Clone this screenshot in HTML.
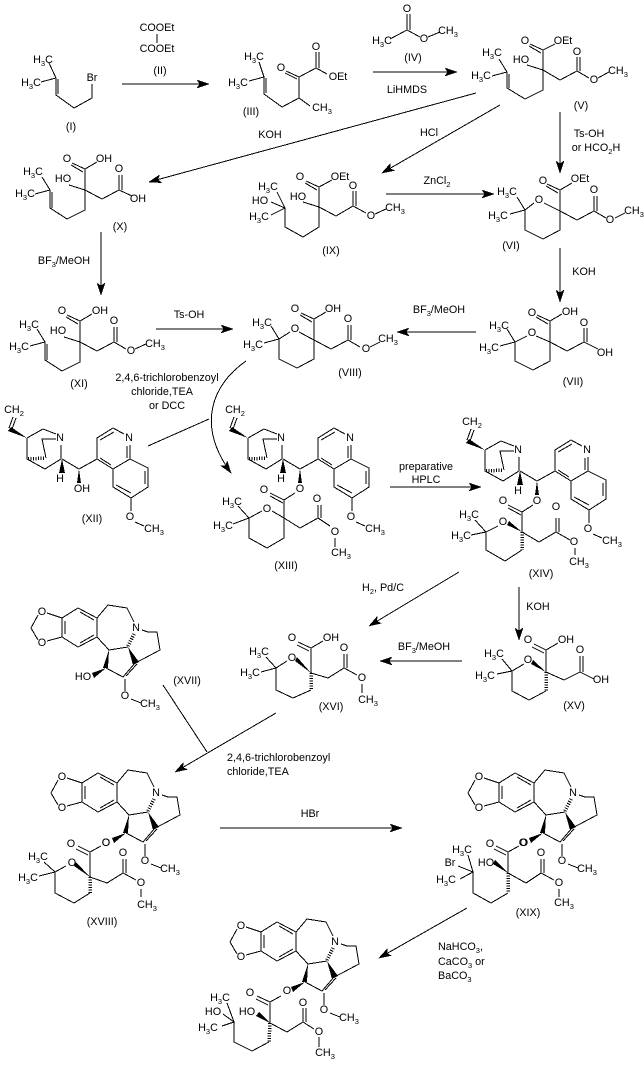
<!DOCTYPE html>
<html><head><meta charset="utf-8"><style>
html,body{margin:0;padding:0;background:#fff}
svg{display:block}
text{font:10.8px "Liberation Sans",Arial,sans-serif;fill:#000;text-anchor:middle;dominant-baseline:central}
.s{font-size:7.5px}
.l{text-anchor:start}
path{fill:none;stroke:#000;stroke-width:1;shape-rendering:crispEdges}
.a{marker-end:url(#ah)}
.h{stroke-width:3.5;stroke-dasharray:1 1.5}
polygon{fill:#000;shape-rendering:crispEdges}
</style></head><body>
<svg width="644" height="1065" viewBox="0 0 644 1065" xmlns="http://www.w3.org/2000/svg">
<defs><marker id="ah" markerUnits="userSpaceOnUse" markerWidth="14" markerHeight="10" refX="12" refY="5" orient="auto"><path d="M0 1L12 5L0 9L3 5Z" style="fill:#000;stroke:#000;stroke-width:.5"/></marker></defs>

<!-- arrows -->
<path class="a" d="M122 84H209"/><path class="a" d="M373 72H457"/><path class="a" d="M476 93L149 182"/>
<path class="a" d="M500 105L382 173"/><path class="a" d="M560 112V173"/><path class="a" d="M386 194H494"/>
<path class="a" d="M101 232V295"/><path class="a" d="M560 248V302"/><path class="a" d="M156 329H233"/>
<path class="a" d="M476 332H397"/><path class="a" d="M246 361C212 385 196 425 231 473"/><path d="M148 446L209 419"/>
<path class="a" d="M390 487H481"/><path class="a" d="M459 572L369 626"/><path class="a" d="M519 587V640"/>
<path class="a" d="M462 661H380"/><path class="a" d="M276 713L175 772"/><path d="M163 685L207 752"/>
<path class="a" d="M220 828H402"/><path class="a" d="M467 908L379 958"/>

<!-- reagents and labels -->
<text x="157" y="28">COOEt</text><path d="M157 34V43"/><text x="157" y="49">COOEt</text>
<text x="160" y="71">(II)</text><text x="71" y="127">(I)</text><text x="251" y="112">(III)</text>
<text x="413" y="58">(IV)</text><text x="407" y="90">LiHMDS</text><text x="581" y="106">(V)</text>
<text x="270" y="135">KOH</text><text x="429" y="133">HCl</text><text x="589" y="134">Ts-OH</text>
<text x="596" y="148">or HCO<tspan class="s" dy="3">2</tspan><tspan dy="-3">H</tspan></text>
<text x="120" y="227">(X)</text><text x="331" y="251">(IX)</text>
<text x="437" y="181">ZnCl<tspan class="s" dy="3">2</tspan></text><text x="511" y="246">(VI)</text>
<text x="64" y="261">BF<tspan class="s" dy="3">3</tspan><tspan dy="-3">/MeOH</tspan></text><text x="584" y="272">KOH</text>
<text x="189" y="315">Ts-OH</text>
<text x="439" y="310">BF<tspan class="s" dy="3">3</tspan><tspan dy="-3">/MeOH</tspan></text>
<text x="79" y="384">(XI)</text><text x="350" y="373">(VIII)</text><text x="573" y="382">(VII)</text>
<text x="167" y="378">2,4,6-trichlorobenzoyl</text><text x="162" y="392">chloride,TEA</text><text x="167" y="406">or DCC</text>
<text x="92" y="519">(XII)</text><text x="426" y="467">preparative</text><text x="426" y="480">HPLC</text>
<text x="286" y="566">(XIII)</text><text x="541" y="574">(XIV)</text>
<text class="l" x="362" y="588">H<tspan class="s" dy="3">2</tspan><tspan dy="-3">,  Pd/C</tspan></text>
<text x="538" y="607">KOH</text>
<text x="424" y="647">BF<tspan class="s" dy="3">3</tspan><tspan dy="-3">/MeOH</tspan></text>
<text x="187" y="681">(XVII)</text><text x="331" y="707">(XVI)</text><text x="574" y="706">(XV)</text>
<text class="l" x="227" y="758">2,4,6-trichlorobenzoyl</text><text class="l" x="227" y="772">chloride,TEA</text>
<text x="102" y="922">(XVIII)</text><text x="528" y="913">(XIX)</text><text x="310" y="814">HBr</text>
<text class="l" x="438" y="947">NaHCO<tspan class="s" dy="3">3</tspan><tspan dy="-3">,</tspan></text>
<text class="l" x="438" y="962">CaCO<tspan class="s" dy="3">3</tspan><tspan dy="-3"> or</tspan></text>
<text class="l" x="438" y="976">BaCO<tspan class="s" dy="3">3</tspan></text>

<!-- I -->
<path d="M49 63L56 78L41 82M56 78V95L74 108L92 98V84M58 79V94"/>
<text x="43" y="60">H<tspan class="s" dy="3">3</tspan><tspan dy="-3">C</tspan></text><text x="31" y="83">H<tspan class="s" dy="3">3</tspan><tspan dy="-3">C</tspan></text><text x="92" y="78">Br</text>

<!-- III -->
<path d="M259 62L264 77L249 81M264 77V94L282 107L299 98L299 77L316 68V52M319 68V52M316 68L327 74M299 98L310 106M299 77L286 71M297 79L285 73M266 78V93"/>
<text x="254" y="57">H<tspan class="s" dy="3">3</tspan><tspan dy="-3">C</tspan></text><text x="238" y="83">H<tspan class="s" dy="3">3</tspan><tspan dy="-3">C</tspan></text>
<text x="281" y="68">O</text><text x="316" y="47">O</text><text x="338" y="77">OEt</text><text x="322" y="108">CH<tspan class="s" dy="3">3</tspan></text>

<!-- IV -->
<path d="M407 14V30M410 14V30M407 30L390 39M407 30L420 37M428 37L440 32"/>
<text x="407" y="9">O</text><text x="382" y="41">H<tspan class="s" dy="3">3</tspan><tspan dy="-3">C</tspan></text><text x="424" y="39">O</text><text x="448" y="31">CH<tspan class="s" dy="3">3</tspan></text>

<!-- V -->
<g transform="translate(543 70)">
<path d="M0 0V-20L-13 -26M-2 -17L-14 -24M0 -20L12 -26M-16 -5L0 0M0 0V20L-18 29L-36 18V2L-44 -11M-36 2L-51 6M-34 4V18M0 0L17 10L34 1V-13M37 1V-13M34 1L46 8M55 8L66 2"/>
<text x="-18" y="-29">O</text><text x="20" y="-29">OEt</text><text x="-22" y="-10">HO</text><text x="34" y="-18">O</text><text x="51" y="10">O</text>
<text x="75" y="1">CH<tspan class="s" dy="3">3</tspan></text>
<text x="-51" y="-17">H<tspan class="s" dy="3">3</tspan><tspan dy="-3">C</tspan></text><text x="-62" y="6">H<tspan class="s" dy="3">3</tspan><tspan dy="-3">C</tspan></text></g>

<!-- X -->
<g transform="translate(85 190)">
<path d="M0 0V-21L-13 -27M-2 -18L-14 -25M0 -21L12 -28M-16 -5L0 0M0 0V20L-18 29L-35 18V0L-43 -13M-35 0L-50 4M-33 2V18M0 0L17 9L34 0V-15M37 0V-15M34 0L47 6"/>
<text x="-18" y="-31">O</text><text x="19" y="-31">OH</text><text x="-22" y="-11">HO</text><text x="34" y="-21">O</text><text x="53" y="9">OH</text>
<text x="-52" y="-18">H<tspan class="s" dy="3">3</tspan><tspan dy="-3">C</tspan></text><text x="-60" y="4">H<tspan class="s" dy="3">3</tspan><tspan dy="-3">C</tspan></text></g>

<!-- IX -->
<g transform="translate(319 207)">
<path d="M0 0V-20L-13 -26M-2 -17L-14 -24M0 -20L13 -27M-16 -5L0 0M0 0V20L-16 30L-34 20V1L-42 -15M-34 1L-48 -5M-34 1L-48 8M0 0L17 9L34 -1V-16M37 -1V-16M34 -1L47 6M56 7L67 2"/>
<text x="-19" y="-30">O</text><text x="21" y="-30">OEt</text><text x="-21" y="-10">HO</text><text x="34" y="-21">O</text><text x="52" y="9">O</text>
<text x="76" y="1">CH<tspan class="s" dy="3">3</tspan></text>
<text x="-51" y="-20">H<tspan class="s" dy="3">3</tspan><tspan dy="-3">C</tspan></text><text x="-59" y="-6">HO</text><text x="-60" y="10">H<tspan class="s" dy="3">3</tspan><tspan dy="-3">C</tspan></text></g>

<!-- VI -->
<g transform="translate(560 211)">
<path d="M0 0V-21L-13 -27M-2 -18L-14 -25M0 -21L12 -28M0 0L-16 -8M-26 -8L-35 -1V19L-17 28L0 19V0M-35 -1L-43 -14M-35 -1L-50 3M0 0L17 9L34 0V-15M37 0V-15M34 0L46 7M55 7L65 2"/>
<text x="-17" y="-30">O</text><text x="20" y="-32">OEt</text><text x="-21" y="-11">O</text><text x="34" y="-21">O</text><text x="50" y="9">O</text>
<text x="74" y="0">CH<tspan class="s" dy="3">3</tspan></text>
<text x="-53" y="-19">H<tspan class="s" dy="3">3</tspan><tspan dy="-3">C</tspan></text><text x="-62" y="5">H<tspan class="s" dy="3">3</tspan><tspan dy="-3">C</tspan></text></g>

<!-- XI -->
<g transform="translate(80 342)">
<path d="M0 0V-21L-13 -27M-2 -18L-14 -25M0 -21L12 -28M-16 -5L0 0M0 0V20L-18 29L-35 18V0L-43 -13M-35 0L-50 4M-33 2V18M0 0L17 9L34 0V-15M37 0V-15M34 0L46 7M55 7L66 2"/>
<text x="-18" y="-31">O</text><text x="20" y="-31">OH</text><text x="-22" y="-11">HO</text><text x="34" y="-21">O</text><text x="51" y="9">O</text>
<text x="75" y="2">CH<tspan class="s" dy="3">3</tspan></text>
<text x="-51" y="-17">H<tspan class="s" dy="3">3</tspan><tspan dy="-3">C</tspan></text><text x="-61" y="5">H<tspan class="s" dy="3">3</tspan><tspan dy="-3">C</tspan></text></g>

<!-- VIII -->
<g transform="translate(314 340)">
<path d="M0 0V-21L-13 -27M-2 -18L-14 -25M0 -21L12 -28M0 0L-15 -8M-24 -8L-35 -1V19L-17 28L0 19V0M-35 -1L-43 -14M-35 -1L-50 3M0 0L17 9L34 0V-15M37 0V-15M34 0L46 7M56 7L66 2"/>
<text x="-19" y="-31">O</text><text x="19" y="-31">OH</text><text x="-19" y="-11">O</text><text x="34" y="-21">O</text><text x="52" y="9">O</text>
<text x="74" y="-1">CH<tspan class="s" dy="3">3</tspan></text>
<text x="-52" y="-17">H<tspan class="s" dy="3">3</tspan><tspan dy="-3">C</tspan></text><text x="-61" y="5">H<tspan class="s" dy="3">3</tspan><tspan dy="-3">C</tspan></text></g>

<!-- VII -->
<g transform="translate(550 342)">
<path d="M0 0V-21L-13 -27M-2 -18L-14 -25M0 -21L12 -28M0 0L-14 -6M-23 -6L-35 0V19L-17 28L0 19V0M-35 0L-43 -13M-35 0L-50 4M0 0L17 9L34 0V-14M37 0V-14M34 0L48 7"/>
<text x="-18" y="-29">O</text><text x="20" y="-30">OH</text><text x="-18" y="-9">O</text><text x="34" y="-19">O</text><text x="55" y="11">OH</text>
<text x="-51" y="-16">H<tspan class="s" dy="3">3</tspan><tspan dy="-3">C</tspan></text><text x="-61" y="6">H<tspan class="s" dy="3">3</tspan><tspan dy="-3">C</tspan></text></g>

<!-- XII quinine -->
<g>
<path d="M13 417L9 428M16 418L12 429M27 438L43 429L56 434M61 445V459L45 469L27 459V438M56 439H42L46 458M62 459L79 469L97 459V438L113 428L124 434M130 445V459L113 469L97 459M100 440L114 432M127 446V458M111 465L100 458M113 469V487L131 498L148 487V468L130 459M116 485L131 493M145 484V471M131 498V511M135 522L144 526"/>
<path class="h" d="M28 459L45 458"/>
<polygon points="8,431 11,427 27,438"/><polygon points="62,459 59,473 65,473"/><polygon points="79,469 77,483 81,483"/>
<text x="14" y="410">CH<tspan class="s" dy="3">2</tspan></text><text x="60" y="438">N</text><text x="129" y="438">N</text><text x="60" y="479">H</text><text x="82" y="489">OH</text><text x="130" y="517">O</text><text x="154" y="529">CH<tspan class="s" dy="3">3</tspan></text>
</g>

<!-- XIII -->
<g transform="translate(221 0)">
<path d="M13 417L9 428M16 418L12 429M27 438L43 429L56 434M61 445V459L45 469L27 459V438M56 439H42L46 458M62 459L79 469L97 459V438L113 428L124 434M130 445V459L113 469L97 459M100 440L114 432M127 446V458M111 465L100 458M113 469V487L131 498L148 487V468L130 459M116 485L131 493M145 484V471M131 498V511M135 522L144 526"/>
<path class="h" d="M28 459L45 458"/>
<polygon points="8,431 11,427 27,438"/><polygon points="62,459 59,473 65,473"/><polygon points="79,469 77,483 81,483"/>
<text x="14" y="410">CH<tspan class="s" dy="3">2</tspan></text><text x="60" y="438">N</text><text x="129" y="438">N</text><text x="60" y="479">H</text><text x="130" y="517">O</text><text x="154" y="529">CH<tspan class="s" dy="3">3</tspan></text>
</g>
<path d="M284 518V500L270 493M283 503L270 496M284 500L295 493M284 518L272 511M262 511L249 518V538L267 548L284 538V518M249 518L238 506M249 518L233 524M284 518L300 528L318 518V505M321 518V505M318 518L330 526M335 538V547"/>
<text x="264" y="490">O</text><text x="300" y="489">O</text><text x="267" y="509">O</text><text x="317" y="499">O</text><text x="335" y="532">O</text>
<text x="341" y="553">CH<tspan class="s" dy="3">3</tspan></text>
<text x="232" y="502">H<tspan class="s" dy="3">3</tspan><tspan dy="-3">C</tspan></text><text x="223" y="526">H<tspan class="s" dy="3">3</tspan><tspan dy="-3">C</tspan></text>

<!-- XIV -->
<g transform="translate(458 12)">
<path d="M13 417L9 428M16 418L12 429M27 438L43 429L56 434M61 445V459L45 469L27 459V438M56 439H42L46 458M62 459L79 469L97 459V438L113 428L124 434M130 445V459L113 469L97 459M100 440L114 432M127 446V458M111 465L100 458M113 469V487L131 498L148 487V468L130 459M116 485L131 493M145 484V471M131 498V511M135 522L144 526"/>
<path class="h" d="M28 459L45 458"/>
<polygon points="8,431 11,427 27,438"/><polygon points="62,459 59,473 65,473"/><polygon points="79,469 77,483 81,483"/>
<text x="14" y="410">CH<tspan class="s" dy="3">2</tspan></text><text x="60" y="438">N</text><text x="129" y="438">N</text><text x="60" y="479">H</text><text x="130" y="517">O</text><text x="154" y="529">CH<tspan class="s" dy="3">3</tspan></text>
</g>
<path d="M522 532V512L508 505M521 515L508 508M522 512L533 505M498 526L486 532V550L505 561L522 550M486 532L475 520M486 532L471 535M522 532L539 542L556 532V518M559 532V518M556 532L570 540M575 548V555"/>
<path class="h" d="M522 532V550"/><polygon points="522,532 509,521 507,525"/>
<text x="503" y="501">O</text><text x="537" y="501">O</text><text x="503" y="522">O</text><text x="556" y="507">O</text><text x="574" y="542">O</text>
<text x="579" y="562">CH<tspan class="s" dy="3">3</tspan></text>
<text x="469" y="515">H<tspan class="s" dy="3">3</tspan><tspan dy="-3">C</tspan></text><text x="461" y="536">H<tspan class="s" dy="3">3</tspan><tspan dy="-3">C</tspan></text>

<!-- XV -->
<path d="M546 672V650L534 644M544 653L532 647M546 650L558 643M512 671L524 664M512 671V691L529 700L546 691M512 671L502 659M512 671L497 674M546 672L564 680L580 672V656M583 672V656M580 672L594 679"/>
<path class="h" d="M546 672V691"/><polygon points="546,672 533,660 531,664"/>
<text x="528" y="640">O</text><text x="566" y="640">OH</text><text x="528" y="660">O</text><text x="580" y="650">O</text><text x="601" y="680">OH</text>
<text x="494" y="654">H<tspan class="s" dy="3">3</tspan><tspan dy="-3">C</tspan></text><text x="485" y="676">H<tspan class="s" dy="3">3</tspan><tspan dy="-3">C</tspan></text>

<!-- XVI -->
<path d="M311 673V648L298 642M309 651L297 645M311 648L323 641M276 668L287 661M276 668V690L293 698L311 690M276 668L266 657M276 668L261 672M311 673L328 678L344 668V654M347 668V654M344 668L357 675M362 684V693"/>
<path class="h" d="M311 673V690"/><polygon points="311,673 297,657 295,661"/>
<text x="292" y="638">O</text><text x="331" y="638">OH</text><text x="292" y="658">O</text><text x="344" y="648">O</text><text x="362" y="678">O</text>
<text x="368" y="700">CH<tspan class="s" dy="3">3</tspan></text>
<text x="259" y="652">H<tspan class="s" dy="3">3</tspan><tspan dy="-3">C</tspan></text><text x="250" y="673">H<tspan class="s" dy="3">3</tspan><tspan dy="-3">C</tspan></text>

<!-- XVII -->
<g>
<path d="M62 618L78 608L97 618V637L78 647L62 637ZM65 621V634M80 612L94 620M94 635L80 643M47 613L62 618M47 641L62 637M38 615L31 628L38 640M97 618L108 605L127 608L134 622M142 630L148 632L157 632L160 650L143 659L137 662M97 637L109 650L128 647M106 668L123 677L135 663M126 676L137 664M125 679V691M131 699L141 703"/>
<path class="h" d="M134 634L128 646"/>
<polygon points="109,650 103,668 108,668"/><polygon points="128,647 133,665 139,662"/><polygon points="106,668 92,673 94,678"/>
<text x="42" y="612">O</text><text x="42" y="643">O</text><text x="136" y="628">N</text><text x="83" y="677">HO</text><text x="125" y="696">O</text><text x="150" y="704">CH<tspan class="s" dy="3">3</tspan></text>
</g>

<!-- XVIII -->
<g transform="translate(20 165)">
<path d="M62 618L78 608L97 618V637L78 647L62 637ZM65 621V634M80 612L94 620M94 635L80 643M47 613L62 618M47 641L62 637M38 615L31 628L38 640M97 618L108 605L127 608L134 622M142 630L148 632L157 632L160 650L143 659L137 662M97 637L109 650L128 647M106 668L123 677L135 663M126 676L137 664M125 679V691M131 699L141 703"/>
<path class="h" d="M134 634L128 646"/>
<polygon points="109,650 103,668 108,668"/><polygon points="128,647 133,665 139,662"/><polygon points="106,668 92,673 94,678"/>
<text x="42" y="612">O</text><text x="42" y="643">O</text><text x="136" y="628">N</text><text x="86" y="678">O</text><text x="125" y="696">O</text><text x="150" y="704">CH<tspan class="s" dy="3">3</tspan></text>
</g>
<path d="M90 877V852L78 846M88 855L76 849M90 852L101 846M66 866L55 872V893L74 903L90 893M55 872L44 862M55 872L39 876M90 877L107 883L123 873V859M126 873V859M123 873L136 880M141 889V897"/>
<path class="h" d="M90 877V893"/><polygon points="90,877 76,862 74,866"/>
<text x="71" y="844">O</text><text x="106" y="843">O</text><text x="72" y="863">O</text><text x="123" y="853">O</text><text x="141" y="883">O</text>
<text x="147" y="905">CH<tspan class="s" dy="3">3</tspan></text>
<text x="38" y="857">H<tspan class="s" dy="3">3</tspan><tspan dy="-3">C</tspan></text><text x="28" y="878">H<tspan class="s" dy="3">3</tspan><tspan dy="-3">C</tspan></text>

<!-- XIX -->
<g transform="translate(437 165)">
<path d="M62 618L78 608L97 618V637L78 647L62 637ZM65 621V634M80 612L94 620M94 635L80 643M47 613L62 618M47 641L62 637M38 615L31 628L38 640M97 618L108 605L127 608L134 622M142 630L148 632L157 632L160 650L143 659L137 662M97 637L109 650L128 647M106 668L123 677L135 663M126 676L137 664M125 679V691M131 699L141 703"/>
<path class="h" d="M134 634L128 646"/>
<polygon points="109,650 103,668 108,668"/><polygon points="128,647 133,665 139,662"/><polygon points="106,668 92,673 94,678"/>
<text x="42" y="612">O</text><text x="42" y="643">O</text><text x="136" y="628">N</text><text x="86" y="678">O</text><text x="125" y="696">O</text><text x="150" y="704">CH<tspan class="s" dy="3">3</tspan></text>
</g>
<path d="M508 873V852L496 846M506 855L494 849M508 852L519 846M473 872V893L491 903L508 893M473 872L468 855M473 872L458 866M473 872L460 879M508 873L526 883L541 873V859M544 873V859M541 873L554 880M559 889V897"/>
<path class="h" d="M508 873V893"/><polygon points="508,873 495,860 493,864"/>
<text x="490" y="844">O</text><text x="524" y="843">O</text><text x="486" y="863">HO</text><text x="541" y="853">O</text><text x="559" y="883">O</text><text x="450" y="863">Br</text>
<text x="564" y="903">CH<tspan class="s" dy="3">3</tspan></text>
<text x="462" y="850">H<tspan class="s" dy="3">3</tspan><tspan dy="-3">C</tspan></text><text x="446" y="880">H<tspan class="s" dy="3">3</tspan><tspan dy="-3">C</tspan></text>

<!-- final -->
<g transform="translate(199 314)">
<path d="M62 618L78 608L97 618V637L78 647L62 637ZM65 621V634M80 612L94 620M94 635L80 643M47 613L62 618M47 641L62 637M38 615L31 628L38 640M97 618L108 605L127 608L134 622M142 630L148 632L157 632L160 650L143 659L137 662M97 637L109 650L128 647M106 668L123 677L135 663M126 676L137 664M125 679V691M131 699L141 703"/>
<path class="h" d="M134 634L128 646"/>
<polygon points="109,650 103,668 108,668"/><polygon points="128,647 133,665 139,662"/><polygon points="106,668 92,673 94,678"/>
<text x="42" y="612">O</text><text x="42" y="643">O</text><text x="136" y="628">N</text><text x="88" y="677">O</text><text x="125" y="696">O</text><text x="150" y="704">CH<tspan class="s" dy="3">3</tspan></text>
</g>
<path d="M270 1023V1002L257 996M268 1005L256 999M270 1002L281 996M234 1022V1042L252 1051L269 1042M234 1022L227 1003M234 1022L223 1014M234 1022L222 1026M270 1023L287 1032L303 1022V1008M306 1022V1008M303 1022L314 1029M319 1037V1047"/>
<path class="h" d="M270 1023L269 1042"/><polygon points="270,1023 259,1012 256,1016"/>
<text x="250" y="993">O</text><text x="247" y="1012">HO</text><text x="303" y="1003">O</text><text x="319" y="1032">O</text>
<text x="325" y="1053">CH<tspan class="s" dy="3">3</tspan></text>
<text x="220" y="998">H<tspan class="s" dy="3">3</tspan><tspan dy="-3">C</tspan></text><text x="213" y="1012">HO</text><text x="208" y="1028">H<tspan class="s" dy="3">3</tspan><tspan dy="-3">C</tspan></text>
</svg>
</body></html>
